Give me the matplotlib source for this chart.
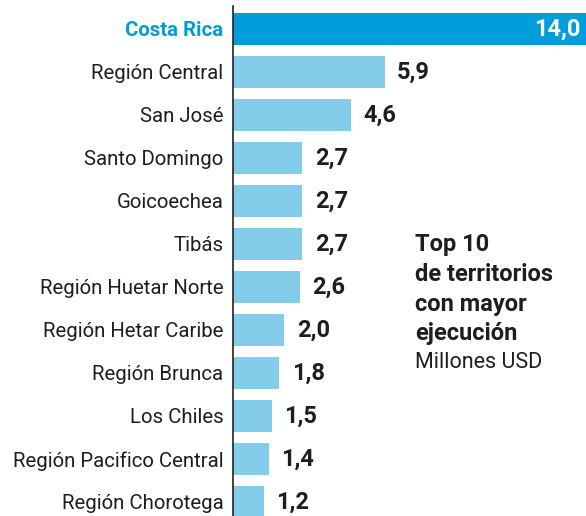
import matplotlib.pyplot as plt

plt.rcParams['font.family'] = ['Roboto', 'DejaVu Sans']

territorios = ['Costa Rica', 'Región Central', 'San José', 'Santo Domingo',
               'Goicoechea', 'Tibás', 'Región Huetar Norte', 'Región Hetar Caribe',
               'Región Brunca', 'Los Chiles', 'Región Pacifico Central',
               'Región Chorotega']
montos = [14.0, 5.9, 4.6, 2.7, 2.7, 2.7, 2.6, 2.0, 1.8, 1.5, 1.4, 1.2]

azul = '#009ddb'
celeste = '#83cdeb'
texto = '#1e1e1e'

fig = plt.figure(figsize=(5.86, 5.16), dpi=100)
ax = fig.add_axes([233 / 586, 0, 1 - 233 / 586, 1 - 6 / 516])

pos = list(range(len(territorios)))
colores = [azul] + [celeste] * (len(territorios) - 1)
ax.barh(pos, montos, height=0.74, color=colores, zorder=2)

ax.set_xlim(0, 13.73)
ax.set_ylim(11.33, -0.535)

for i, v in enumerate(montos):
    etiqueta = f'{v:.1f}'.replace('.', ',')
    if i == 0:
        # la barra mayor se sale del lienzo; la etiqueta va dentro
        ax.annotate(etiqueta, (v, i), xytext=(-9, 0), textcoords='offset points',
                    ha='right', va='center', color='white',
                    fontsize=17, fontweight='bold', annotation_clip=False)
    else:
        ax.annotate(etiqueta, (v, i), xytext=(9, 0), textcoords='offset points',
                    ha='left', va='center', color=texto,
                    fontsize=17, fontweight='bold')

ax.set_yticks(pos)
ax.set_yticklabels(territorios, fontsize=14.7, color=texto)
ax.tick_params(axis='y', length=0, pad=7)
lbl0 = ax.get_yticklabels()[0]
lbl0.set_color(azul)
lbl0.set_fontweight('bold')

ax.set_xticks([])
for s in ['top', 'right', 'bottom']:
    ax.spines[s].set_visible(False)
ax.spines['left'].set_linewidth(1.2)
ax.spines['left'].set_color('#222222')

# Título a la derecha, sobre el área vacía
lineas = ['Top 10', 'de territorios', 'con mayor', 'ejecución']
for k, linea in enumerate(lineas):
    fig.text(415 / 586, 1 - (245 + 29.5 * k) / 516, linea, ha='left', va='center',
             fontsize=17, fontweight='bold', color=texto)
fig.text(415 / 586, 1 - 362 / 516, 'Millones USD', ha='left', va='center',
         fontsize=15.5, color=texto)

fig.savefig('out.png', dpi=100)
